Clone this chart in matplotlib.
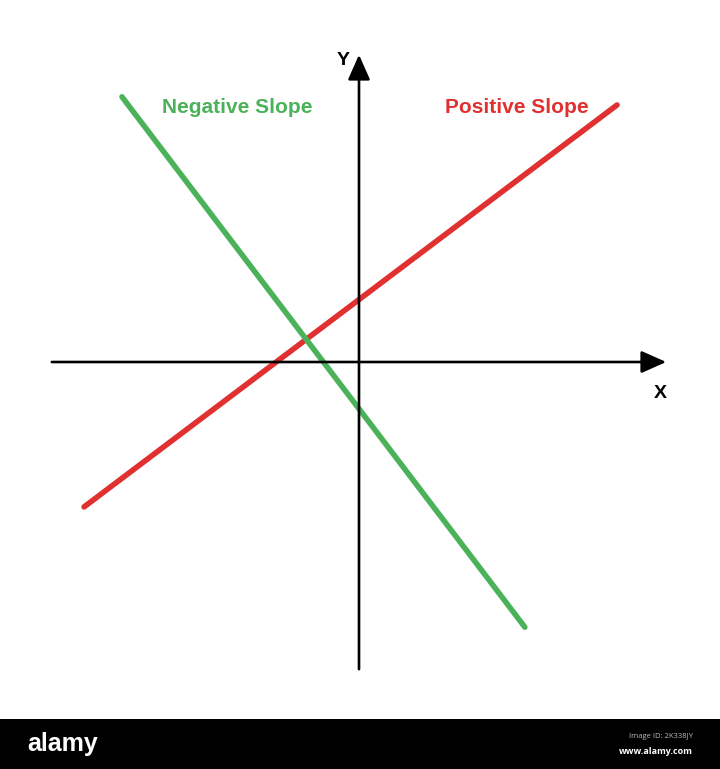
import matplotlib.pyplot as plt
from matplotlib.patches import Rectangle

# line end points (data units, origin at axes cross)
pos_x = [-5.37, 5.04]
pos_y = [-2.83, 5.02]
neg_x = [-4.63, 3.24]
neg_y = [5.18, -5.18]

axis_len = 6.0
labels = ["Negative Slope", "Positive Slope"]

GREEN = "#4cb25a"
RED = "#e0302f"
W, H = 720, 769
bar_h = 50          # black watermark strip, px
unit = 51.2         # px per data unit
ox, oy = 359, 362   # origin in px (from top-left)

fig = plt.figure(figsize=(W / 100, H / 100), dpi=100)
fig.patch.set_facecolor("white")

ax = fig.add_axes([0, bar_h / H, 1, (H - bar_h) / H])
ax.set_xlim(-ox / unit, (W - ox) / unit)
ax.set_ylim(-(H - bar_h - oy) / unit, oy / unit)
ax.axis("off")

arrow = dict(arrowstyle="-|>,head_length=0.9,head_width=0.4", color="black",
             lw=1.9, mutation_scale=17, shrinkA=0, shrinkB=0)
ax.annotate("", xy=(axis_len, 0), xytext=(-axis_len, 0), arrowprops=arrow)
ax.annotate("", xy=(0, axis_len), xytext=(0, -axis_len), arrowprops=arrow)

ax.plot(pos_x, pos_y, color=RED, lw=4.0, solid_capstyle="round")
ax.plot(neg_x, neg_y, color=GREEN, lw=4.0, solid_capstyle="round")

fnt = dict(family=["Liberation Sans", "DejaVu Sans"], fontweight="bold")
ax.text(-2.38, 4.98, labels[0], color=GREEN, fontsize=15, ha="center", va="center", **fnt)
ax.text(3.08, 4.98, labels[1], color=RED, fontsize=15, ha="center", va="center", **fnt)
ax.text(-0.3, 5.89, "Y", color="black", fontsize=14, ha="center", va="center", **fnt)
ax.text(5.88, -0.62, "X", color="black", fontsize=14, ha="center", va="center", **fnt)

# watermark strip
fig.patches.append(Rectangle((0, 0), 1, bar_h / H, transform=fig.transFigure,
                             facecolor="black", edgecolor="none"))
fig.text(27 / W, 1 - 744 / H, "alamy", color="white", fontsize=18, fontweight="bold",
         family=["Liberation Sans Narrow", "Liberation Sans", "DejaVu Sans"],
         ha="left", va="center")
fig.text(693 / W, 1 - 737 / H, "Image ID: 2K338JY", color="#bbbbbb", fontsize=5.5,
         ha="right", va="center", family=["Open Sans", "DejaVu Sans"])
fig.text(693 / W, 1 - 752 / H, "www.alamy.com", color="white", fontsize=6.5,
         fontweight="bold", ha="right", va="center", family=["Open Sans", "DejaVu Sans"])

fig.savefig("out.png", dpi=100)
